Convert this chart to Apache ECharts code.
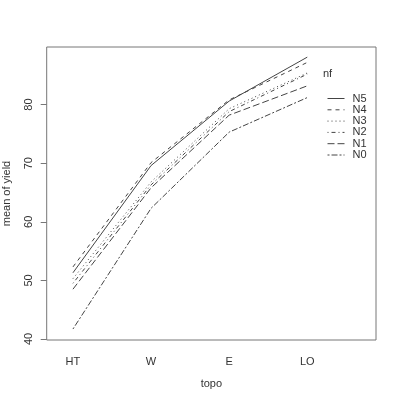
<!DOCTYPE html>
<html><head><meta charset="utf-8">
<script src="https://cdn.jsdelivr.net/npm/echarts@6/dist/echarts.min.js"></script>
<style>html,body{margin:0;padding:0;background:#fff}#c{width:400px;height:399px}</style>
</head><body><div id="c"></div>
<script>
var categories = ['HT', 'W', 'E', 'LO'];
var yTicks = [40, 50, 60, 70, 80];
var seriesNames = ['N5', 'N4', 'N3', 'N2', 'N1', 'N0'];
var N5 = [51.3, 69.6, 80.6, 88.1];
var N4 = [52.3, 70.1, 80.8, 87.2];
var N3 = [50.3, 66.8, 79.3, 85.4];
var N2 = [49.5, 66.3, 78.8, 85.2];
var N1 = [48.5, 65.8, 78.2, 83.2];
var N0 = [41.7, 62.3, 75.3, 81.2];
var values = [N5, N4, N3, N2, N1, N0];
var dashes = ['solid', [4, 4], [1, 3], [1, 3, 4, 3], [7, 3], [2, 2, 6, 2]];

var font = 'Liberation Sans, Arial, sans-serif';
var txt = '#333';
var lineCol = '#444';
var chart = echarts.init(document.getElementById('c'), null, {renderer: 'canvas'});
var series = seriesNames.map(function (n, i) {
  return {
    name: n, type: 'line', symbol: 'none', silent: true, animation: false,
    data: values[i].map(function (v, j) { return [j + 1, v]; }),
    itemStyle: {color: lineCol, opacity: 0},
    lineStyle: {color: lineCol, width: 1, type: dashes[i]}
  };
});
chart.setOption({
  animation: false,
  grid: {left: 46.7, right: 24, top: 47, bottom: 59, show: true, borderColor: '#777', borderWidth: 1,
    containLabel: false, outerBoundsMode: 'none'},
  title: {text: 'nf', left: 318, top: 63, textStyle: {fontFamily: font, fontSize: 11, fontWeight: 'normal', color: txt}},
  legend: {
    orient: 'vertical', left: 322, top: 88, itemWidth: 17, itemHeight: 6, itemGap: 0.3,
    itemStyle: {opacity: 0},
    lineStyle: {width: 1},
    textStyle: {fontFamily: font, fontSize: 11, lineHeight: 11, color: txt, padding: [0, 0, 0, 3]},
    data: seriesNames, selectedMode: false
  },
  xAxis: {
    type: 'value', min: 0.664, max: 4.88,
    name: 'topo', nameLocation: 'middle', nameGap: 38,
    nameTextStyle: {fontFamily: font, fontSize: 11, color: txt},
    axisLine: {show: false}, axisTick: {show: false}, splitLine: {show: false},
    axisLabel: {customValues: [1, 2, 3, 4], margin: 16, fontFamily: font, fontSize: 11, color: txt,
      formatter: function (v) { return categories[Math.round(v) - 1] || ''; }}
  },
  yAxis: {
    type: 'value', min: 39.83, max: 89.83,
    name: 'mean of yield', nameLocation: 'middle', nameGap: 34, nameRotate: 90,
    nameTextStyle: {fontFamily: font, fontSize: 11, color: txt},
    axisLine: {show: false},
    axisTick: {show: true, inside: false, length: 6, customValues: yTicks, lineStyle: {color: '#777'}},
    splitLine: {show: false},
    axisLabel: {customValues: yTicks, rotate: 90, margin: 12, fontFamily: font, fontSize: 11, color: txt}
  },
  series: series
});
</script></body></html>
